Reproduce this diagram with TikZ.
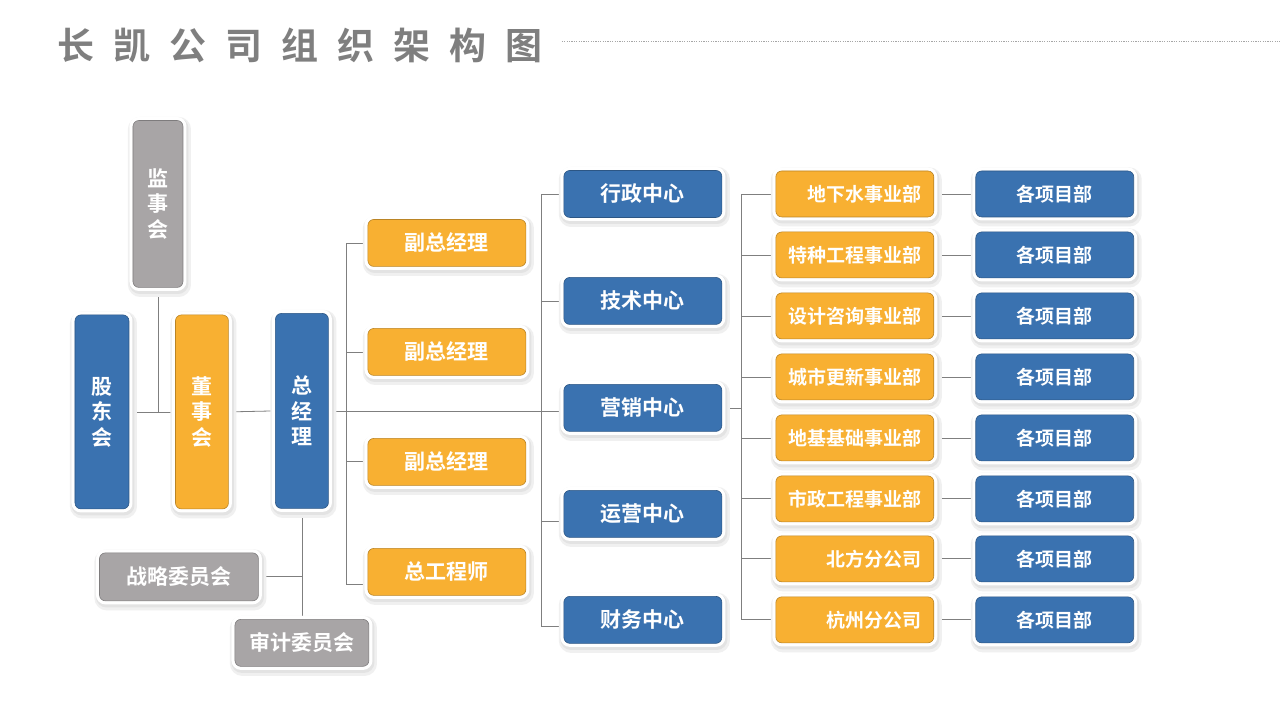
\documentclass[tikz,border=0pt]{standalone}
\usepackage{fontspec}
\setmainfont{Noto Sans CJK SC}[BoldFont={Noto Sans CJK SC Bold}]
\usetikzlibrary{backgrounds}
\definecolor{cblue}{HTML}{3A72B0}
\definecolor{corange}{HTML}{F8B032}
\definecolor{cgray}{HTML}{A8A5A6}
\definecolor{cline}{HTML}{7F7F7F}
\definecolor{ctitle}{HTML}{7F7F7F}
\tikzset{
  box/.style={rounded corners=6pt, fill=#1, draw=#1!75!black, line width=0.6pt,
    text=white, font=\bfseries\fontsize{21}{25.5}\selectfont, inner sep=0pt, align=center,
    preaction={draw=black!6, line width=13pt, transform canvas={xshift=1.5pt,yshift=-3pt}},
    preaction={draw=black!11, line width=9pt, transform canvas={xshift=1pt,yshift=-2pt}},
    preaction={draw=white, line width=7pt}},
  vbox/.style={box=#1, minimum width=54pt, minimum height=194pt},
  hbox/.style={box=#1, minimum width=158pt, minimum height=47pt},
  rbox/.style={box=#1, minimum width=158pt, minimum height=46pt,
    font=\bfseries\fontsize{19}{23}\selectfont},
  conn/.style={draw=cline, line width=0.8pt},
}
\begin{document}
\begin{tikzpicture}[x=1pt,y=-1pt]
\begin{pgfonlayer}{background}
\fill[white] (0,0) rectangle (1280,720);
\end{pgfonlayer}
% title
\node[anchor=west, text=ctitle, inner sep=0pt, font=\bfseries\fontsize{37}{37}\selectfont] (title) at (57,45)
  {长\hspace{19pt}凯\hspace{19pt}公\hspace{19pt}司\hspace{19pt}组\hspace{19pt}织\hspace{19pt}架\hspace{19pt}构\hspace{19pt}图};
\coordinate (d1) at (562,41);
\coordinate (d2) at (1280,41);
\draw[draw=black!35, line width=0.6pt, dash pattern=on 1.2pt off 1.2pt] (d1) -- (d2);

% left column
\node[box=cgray, minimum width=50pt, minimum height=167pt] (js) at (158,204) {监\\事\\会};
\node[vbox=cblue] (gd) at (102,412) {股\\东\\会};
\node[vbox=corange, minimum width=53pt] (ds) at (202,412) {董\\事\\会};
\node[vbox=cblue, minimum width=53pt, minimum height=195pt] (zjl) at (302,411) {总\\经\\理};
\node[box=cgray, minimum width=159pt, minimum height=48pt] (zl) at (179,577) {战略委员会};
\node[box=cgray, minimum width=134pt, minimum height=47pt] (sj) at (302,643) {审计委员会};

% deputies
\node[hbox=corange] (f1) at (447,243) {副总经理};
\node[hbox=corange] (f2) at (447,352) {副总经理};
\node[hbox=corange] (f3) at (447,462) {副总经理};
\node[hbox=corange] (zg) at (447,572) {总工程师};

% centers
\node[hbox=cblue] (xz) at (643,194) {行政中心};
\node[hbox=cblue] (js2) at (643,301) {技术中心};
\node[hbox=cblue] (yx) at (643,408) {营销中心};
\node[hbox=cblue] (yy) at (643,514) {运营中心};
\node[hbox=cblue] (cw) at (643,620) {财务中心};

% divisions
\foreach \i/\y/\t in {1/194/地下水事业部, 2/255/特种工程事业部, 3/316/设计咨询事业部, 4/377/城市更新事业部,
                      5/438/地基基础事业部, 6/499/市政工程事业部, 7/559/北方分公司, 8/620/杭州分公司} {
  \node[rbox=corange, text width=134pt, align=right] (b\i) at (855,\y) {\t};
  \node[rbox=cblue] (p\i) at (1055,\y) {各项目部};
}

\coordinate (t1) at (346,411);
\coordinate (t2) at (542,411);
\coordinate (t3) at (742,408);

\begin{pgfonlayer}{background}
  \draw[conn] (gd.east) -- (ds.west);
  \draw[conn] (js.south) -- (js.south |- gd.east);
  \draw[conn] (ds.east) -- (zjl.west);
  \draw[conn] (zjl.east) -- (zjl.east -| yx.west);
  \draw[conn] (zjl.south) -- (sj.north);
  \draw[conn] (zl.east) -- (zl.east -| zjl.south);
  \draw[conn] (f1.west) -| (t1) |- ([yshift=-13pt]zg.west);
  \draw[conn] (f2.west) -- (f2.west -| t1);
  \draw[conn] (f3.west) -- (f3.west -| t1);
  \draw[conn] (xz.west) -| (t2) |- ([yshift=-7pt]cw.west);
  \draw[conn] (js2.west) -- (js2.west -| t2);
  \draw[conn] ([yshift=-8pt]yy.west) -- ([yshift=-8pt]yy.west -| t2);
  \draw[conn] (yx.east) -- (t3);
  \draw[conn] (b1.west) -| (t3) |- (b8.west);
  \foreach \i in {2,...,7} { \draw[conn] (b\i.west) -- (b\i.west -| t3); }
  \foreach \i in {1,...,8} { \draw[conn] (b\i.east) -- (p\i.west); }
\end{pgfonlayer}
\end{tikzpicture}
\end{document}
